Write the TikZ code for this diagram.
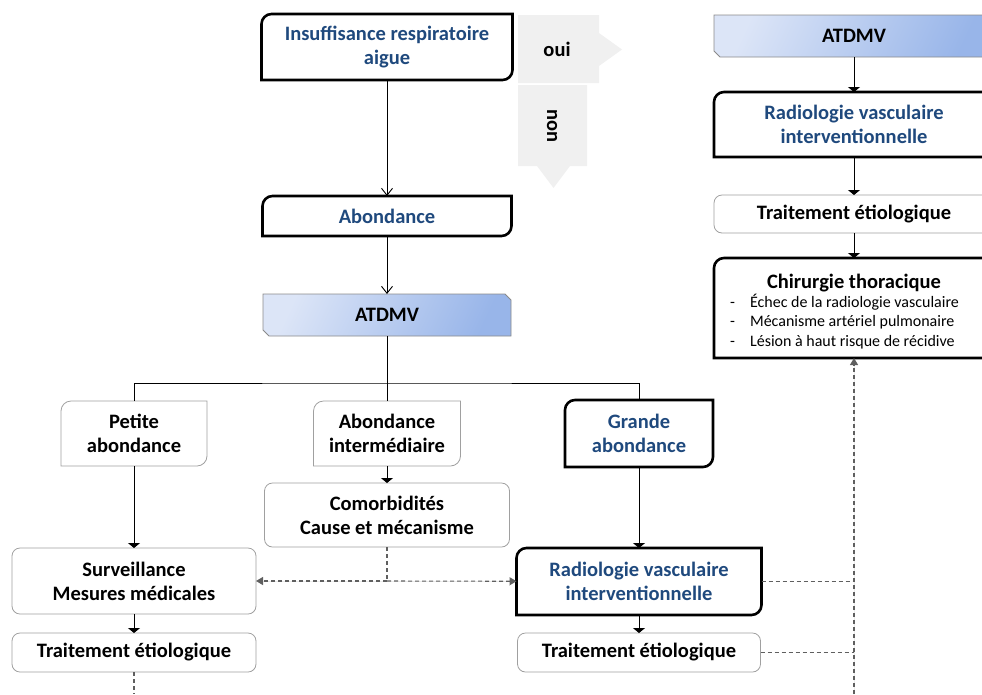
\documentclass[tikz,border=0pt]{standalone}
\usepackage{fontspec}
\setmainfont{Carlito}
\usetikzlibrary{arrows.meta,calc,positioning,backgrounds}

\definecolor{titleblue}{HTML}{1F497D}
\definecolor{boxgrey}{HTML}{A0A0A0}
\definecolor{dashgrey}{HTML}{5F5F5F}
\definecolor{blockgrey}{HTML}{F0F0F0}
\definecolor{atdlight}{HTML}{DCE5F7}
\definecolor{atddark}{HTML}{98B5E9}
\definecolor{atdedge}{HTML}{8A8A8A}

% frame with the top left and bottom right corners rounded
\newcommand{\diagframe}[2][line width=2.6pt]{%
  \draw[#1] ($(#2.north west)+(0pt,-10pt)$)
      .. controls ($(#2.north west)+(0pt,-4.5pt)$) and ($(#2.north west)+(4.5pt,0pt)$) .. ($(#2.north west)+(10pt,0pt)$)
    -- (#2.north east) -- ($(#2.south east)+(0pt,10pt)$)
      .. controls ($(#2.south east)+(0pt,4.5pt)$) and ($(#2.south east)+(-4.5pt,0pt)$) .. ($(#2.south east)+(-10pt,0pt)$)
    -- (#2.south west) -- cycle;}
% shaded frame with two snipped corners
\newcommand{\snipframe}[1]{%
  \begin{scope}[on background layer]
  \shadedraw[draw=atdedge, line width=0.8pt, left color=atdlight, right color=atddark, shading angle=65]
    (#1.north west) -- ($(#1.north east)+(-6pt,0pt)$) -- ($(#1.north east)+(0pt,-6pt)$) -- (#1.south east)
    -- ($(#1.south west)+(6pt,0pt)$) -- ($(#1.south west)+(0pt,6pt)$) -- cycle;
  \end{scope}}

\begin{document}
\begin{tikzpicture}[x=1pt,y=-1pt]
\tikzset{
	lbl/.style={font=\bfseries\fontsize{20.5}{24}\selectfont, align=center,
		inner sep=0pt, outer sep=0pt},
	keybox/.style={lbl, text=titleblue},
	flatbox/.style={lbl},
	softbox/.style={lbl, draw=boxgrey, line width=0.8pt, rounded corners=8pt},
	snipbox/.style={lbl},
	itembox/.style={font=\fontsize{16}{19}\selectfont, anchor=base west, inner sep=0pt},
	link/.style={line width=0.9pt},
	vtip/.style={link, -{Straight Barb[length=7pt,width=11pt]}},
	ftip/.style={link, -{Triangle[length=5pt,width=12pt]}},
	dline/.style={draw=dashgrey, line width=1.1pt, dash pattern=on 4pt off 3pt},
	dtip/.style={dline, -{Triangle[length=7pt,width=8pt]}, fill=dashgrey}
}
\useasboundingbox (0,0) rectangle (982,694);
\clip (0,0) rectangle (982,694);

% oui / non block arrows
\fill[blockgrey] (518,15) -- (599,15) -- (599,33) -- (622,49.5) -- (599,66) -- (599,83) -- (518,83) -- cycle;
\fill[blockgrey] (518,85) -- (587,85) -- (587,166) -- (570,166) -- (553.5,188) -- (537,166) -- (518,166) -- cycle;
\node[lbl] (OUI) at (557,49) {oui};
\node[lbl, rotate=-90] (NON) at (552,126) {non};

% left part
\node[keybox, minimum width=251pt, minimum height=66pt] (IRA) at (387,47) {Insuffisance respiratoire\\aigue};
\node[keybox, minimum width=249pt, minimum height=40pt] (ABD) at (387,216) {Abondance};
\node[snipbox, minimum width=248pt, minimum height=42pt] (ATD) at (387,315) {ATDMV};
\node[flatbox, minimum width=146pt, minimum height=65pt] (PAB) at (134,433.5) {Petite\\abondance};
\node[flatbox, minimum width=147pt, minimum height=65pt] (AIM) at (387,433.5) {Abondance\\intermédiaire};
\node[keybox, minimum width=148pt, minimum height=67pt] (GAB) at (639,433.5) {Grande\\abondance};
\node[softbox, minimum width=245pt, minimum height=64pt] (COM) at (387,515) {Comorbidités\\Cause et mécanisme};
\node[softbox, minimum width=244pt, minimum height=66pt] (SRV) at (134,581) {Surveillance\\Mesures médicales};
\node[softbox, minimum width=244pt, minimum height=39pt] (TEL) at (134,652.5) {Traitement étiologique};
\node[keybox, minimum width=245pt, minimum height=67pt] (RVI) at (639,581.5) {Radiologie vasculaire\\interventionnelle};
\node[softbox, minimum width=243pt, minimum height=39pt] (TEB) at (639,652.5) {Traitement étiologique};

% right part
\node[snipbox, minimum width=280pt, minimum height=42pt] (ATDR) at (854,36) {ATDMV};
\node[keybox, minimum width=280pt, minimum height=65pt] (RVIR) at (854,124.5) {Radiologie vasculaire\\interventionnelle};
\node[softbox, minimum width=280pt, minimum height=38pt] (TER) at (854,214) {Traitement étiologique};
\node[lbl, minimum width=280pt, minimum height=100pt] (CHT) at (854,308) {};
\node[lbl, anchor=base] (CHTT) at (854,288) {Chirurgie thoracique};
\node[itembox] (CHT1) at (730,307) {-\hspace{15pt}Échec de la radiologie vasculaire};
\node[itembox] (CHT2) at (730,326.5) {-\hspace{15pt}Mécanisme artériel pulmonaire};
\node[itembox] (CHT3) at (730,346) {-\hspace{15pt}Lésion à haut risque de récidive};

\diagframe{IRA}
\diagframe{ABD}
\snipframe{ATD}
\diagframe[draw=boxgrey, line width=0.8pt]{PAB}
\diagframe[draw=boxgrey, line width=0.8pt]{AIM}
\diagframe{GAB}
\diagframe{RVI}
\snipframe{ATDR}
\diagframe{RVIR}
\diagframe{CHT}

\coordinate (SPLIT) at (387,383);
\coordinate (CJOIN) at (COM.south |- SRV.east);
\coordinate (LBASE) at (134,694);
\coordinate (RBASE) at (854,694);

{\draw[vtip] (IRA) -- (ABD);}
{\draw[vtip] (ABD) -- (ATD);}
{\draw[link] (ATD) -- (SPLIT);}
{\draw[link] (PAB.north) |- (SPLIT) -| (GAB.north);}
{\draw[link] (SPLIT) -- (AIM);}
{\draw[ftip] (PAB) -- (SRV);}
{\draw[ftip] (AIM) -- (COM);}
{\draw[ftip] (GAB) -- (RVI);}
{\draw[ftip] (SRV) -- (TEL);}
{\draw[ftip] (RVI) -- (TEB);}
{\draw[ftip] (ATDR) -- (RVIR);}
{\draw[ftip] (RVIR) -- (TER);}
{\draw[ftip] (TER) -- (CHT);}

{\draw[dline] (COM) -- (CJOIN);}
{\draw[dtip] (CJOIN) -- (SRV);}
{\draw[dtip] (CJOIN) -- (RVI);}
{\draw[dline] (TEL) -- (LBASE);}
{\draw[dline] (RVI) -- (RVI.east -| RBASE);}
{\draw[dline] (TEB) -- (TEB.east -| RBASE);}
{\draw[dtip] (RBASE) -- (CHT);}
\end{tikzpicture}
\end{document}
